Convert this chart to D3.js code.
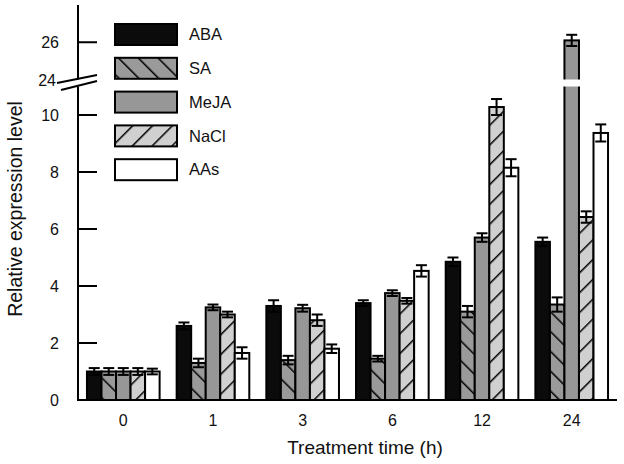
<!DOCTYPE html>
<html><head><meta charset="utf-8">
<script src="https://cdn.jsdelivr.net/npm/d3@7"></script>
<style>body{margin:0;background:#fff}svg{display:block}text{font-family:Arial,"Liberation Sans",sans-serif;fill:#111}</style>
</head><body><svg id="c" width="624" height="464"></svg>
<script>
const categories = ["0","1","3","6","12","24"];
const seriesNames = ["ABA","SA","MeJA","NaCl","AAs"];
const ABA  = [1.0, 2.6, 3.3, 3.4, 4.85, 5.55];
const SA   = [1.0, 1.3, 1.4, 1.45, 3.1, 3.35];
const MeJA = [1.0, 3.25, 3.22, 3.75, 5.7, 26.1];
const NaCl = [1.0, 3.0, 2.8, 3.48, 10.28, 6.42];
const AAs  = [1.0, 1.65, 1.8, 4.53, 8.15, 9.37];
const ABA_err  = [0.12, 0.12, 0.2, 0.1, 0.15, 0.15];
const SA_err   = [0.12, 0.15, 0.15, 0.1, 0.2, 0.25];
const MeJA_err = [0.12, 0.1, 0.12, 0.1, 0.15, 0.3];
const NaCl_err = [0.12, 0.1, 0.2, 0.1, 0.28, 0.2];
const AAs_err  = [0.1, 0.2, 0.15, 0.2, 0.3, 0.3];
const lowTicks = [0,2,4,6,8,10];
const highTicks = [24,26];

const values = [ABA, SA, MeJA, NaCl, AAs];
const errs = [ABA_err, SA_err, MeJA_err, NaCl_err, AAs_err];
const fills = ["#0b0b0b", "url(#hatchSA)", "#979797", "url(#hatchNaCl)", "#ffffff"];

const svg = d3.select("#c");
const defs = svg.append("defs");
function hatch(id, bg, dir){
  const p = defs.append("pattern").attr("id", id).attr("patternUnits","userSpaceOnUse")
    .attr("width", 14).attr("height", 14)
    .attr("patternTransform", `rotate(${dir>0?45:-45})`);
  p.append("rect").attr("width",14).attr("height",14).attr("fill",bg);
  p.append("line").attr("x1",0).attr("y1",0).attr("x2",0).attr("y2",14).attr("stroke","#000").attr("stroke-width",3);
}
hatch("hatchSA", "#9a9a9a", -1);
hatch("hatchNaCl", "#d0d0d0", 1);

const x0 = 78, x1 = 617, yBase = 400;
const x = d3.scaleBand().domain(categories).range([x0, x1]).paddingInner(0.19).paddingOuter(0.1);
const xs = d3.scaleBand().domain(seriesNames).range([0, x.bandwidth()]);
const yLow = d3.scaleLinear().domain([0, 11]).range([yBase, 86.5]);
const yHigh = d3.scaleLinear().domain([24, 28]).range([79.5, 5]);
const y = v => v <= 11 ? yLow(v) : yHigh(v);

const data = [];
categories.forEach((c, i) => seriesNames.forEach((s, j) => data.push({c, s, j, v: values[j][i], e: errs[j][i]})));

const g = svg.append("g");
g.selectAll("rect.bar").data(data).join("rect").attr("class","bar")
  .attr("x", d => x(d.c) + xs(d.s)).attr("width", xs.bandwidth())
  .attr("y", d => y(d.v)).attr("height", d => yBase - y(d.v))
  .attr("fill", d => fills[d.j]).attr("stroke", "#000").attr("stroke-width", 2);

g.selectAll("rect.gap").data(data.filter(d => d.v > 11)).join("rect").attr("class","gap")
  .attr("x", d => x(d.c) + xs(d.s) - 2).attr("width", xs.bandwidth() + 4)
  .attr("y", yHigh(24)).attr("height", yLow(11) - yHigh(24)).attr("fill", "#fff");

const eb = svg.append("g").attr("stroke", "#000").attr("stroke-width", 2);
data.forEach(d => {
  const cx = x(d.c) + xs(d.s) + xs.bandwidth()/2, hw = 5.5;
  const yt = y(d.v + d.e), yb = y(d.v - d.e);
  eb.append("line").attr("x1", cx).attr("x2", cx).attr("y1", yt).attr("y2", yb);
  eb.append("line").attr("x1", cx-hw).attr("x2", cx+hw).attr("y1", yt).attr("y2", yt);
  eb.append("line").attr("x1", cx-hw).attr("x2", cx+hw).attr("y1", yb).attr("y2", yb);
});

const ax = svg.append("g").attr("stroke", "#000").attr("stroke-width", 2);
ax.append("line").attr("x1", x0).attr("x2", x1).attr("y1", yBase).attr("y2", yBase);
ax.append("line").attr("x1", x0).attr("x2", x0).attr("y1", yBase+1).attr("y2", yLow(11));
ax.append("line").attr("x1", x0).attr("x2", x0).attr("y1", yHigh(24)).attr("y2", yHigh(28));
lowTicks.filter(t => t > 0).forEach(t => ax.append("line").attr("x1", x0).attr("x2", x0+19).attr("y1", yLow(t)).attr("y2", yLow(t)));
ax.append("line").attr("x1", x0).attr("x2", x0+19).attr("y1", yHigh(26)).attr("y2", yHigh(26));
ax.append("line").attr("x1", 57).attr("y1", 83).attr("x2", 97).attr("y2", 75);
ax.append("line").attr("x1", 61).attr("y1", 90).attr("x2", 97).attr("y2", 81);

const tl = svg.append("g").style("font-size", "16px");
lowTicks.forEach(t => tl.append("text").attr("x", 59).attr("y", yLow(t)).attr("dy", "0.35em").attr("text-anchor","end").text(t));
highTicks.forEach(t => tl.append("text").attr("x", t === 24 ? 56 : 59).attr("y", yHigh(t) + (t===24?1:0)).attr("dy", "0.35em").attr("text-anchor","end").text(t));
categories.forEach(c => tl.append("text").attr("x", x(c) + x.bandwidth()/2).attr("y", 426).attr("text-anchor","middle").text(c));

svg.append("text").attr("x", 365).attr("y", 454).attr("text-anchor","middle").style("font-size","19px").text("Treatment time (h)");
svg.append("text").attr("transform", "translate(22,209) rotate(-90)").attr("text-anchor","middle").style("font-size","19.5px").text("Relative expression level");

const lg = svg.append("g");
seriesNames.forEach((s, j) => {
  const yy = 24 + j * 33.8;
  lg.append("rect").attr("x", 115).attr("y", yy).attr("width", 62).attr("height", 21)
    .attr("fill", fills[j]).attr("stroke", "#000").attr("stroke-width", 2);
  lg.append("text").attr("x", 189).attr("y", yy + 10.5).attr("dy", "0.35em").style("font-size","16.5px").text(s);
});
</script></body></html>
